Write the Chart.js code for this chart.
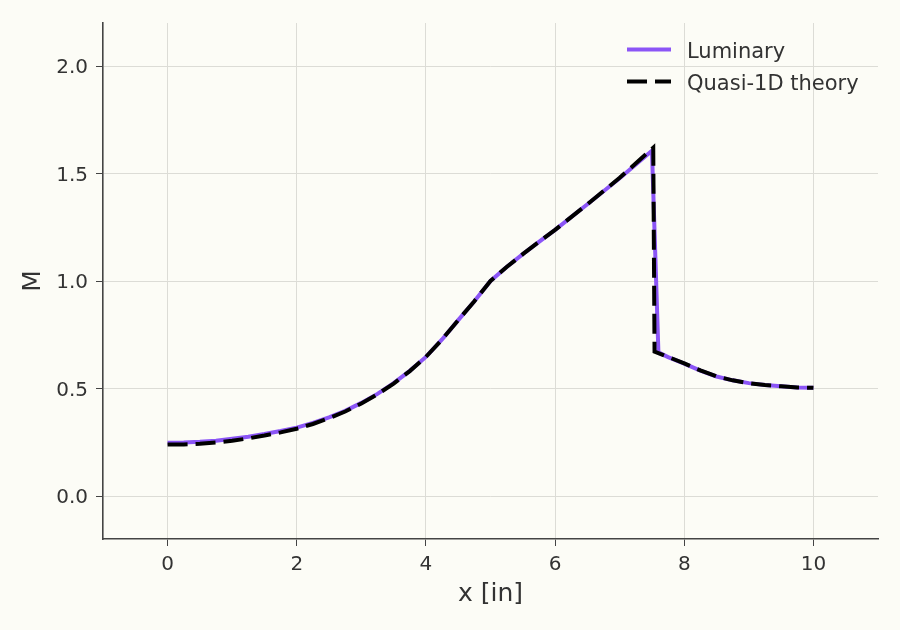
<!DOCTYPE html>
<html>
<head>
<meta charset="utf-8">
<script src="https://cdn.jsdelivr.net/npm/chart.js@4.4.1/dist/chart.umd.min.js"></script>
<style>
    html, body { margin: 0; padding: 0; background: #fcfcf6; }
    #wrap { width: 900px; height: 630px; }
</style>
</head>
<body>
<div id="wrap"><canvas id="machChart" width="900" height="630"></canvas></div>
<script>
// values
var luminaryX = [0, 0.25, 0.5, 0.75, 1, 1.25, 1.5, 1.75, 2, 2.25, 2.5, 2.75, 3, 3.25, 3.5, 3.75, 4, 4.25, 4.5, 4.75, 5,
    5.25, 5.5, 5.75, 6, 6.5, 7, 7.5, 7.6, 7.75, 8, 8.25, 8.5, 8.75, 9, 9.25, 9.5, 9.75, 10];
var luminaryM = [0.248, 0.249, 0.252, 0.257, 0.266, 0.276, 0.288, 0.302, 0.318, 0.340, 0.366, 0.396, 0.433, 0.475, 0.525, 0.582, 0.647, 0.728, 0.818, 0.906, 1.000,
    1.065, 1.125, 1.182, 1.238, 1.357, 1.478, 1.606, 0.668, 0.646, 0.616, 0.583, 0.556, 0.538, 0.525, 0.516, 0.510, 0.505, 0.503];

var theoryX = [0, 0.25, 0.5, 0.75, 1, 1.25, 1.5, 1.75, 2, 2.25, 2.5, 2.75, 3, 3.25, 3.5, 3.75, 4, 4.25, 4.5, 4.75, 5,
    5.25, 5.5, 5.75, 6, 6.5, 7, 7.52, 7.54, 7.75, 8, 8.25, 8.5, 8.75, 9, 9.25, 9.5, 9.75, 10];
var theoryM = [0.239, 0.240, 0.243, 0.249, 0.257, 0.268, 0.281, 0.296, 0.313, 0.335, 0.362, 0.393, 0.430, 0.473, 0.523, 0.581, 0.647, 0.728, 0.818, 0.906, 1.000,
    1.065, 1.125, 1.182, 1.238, 1.357, 1.480, 1.620, 0.672, 0.647, 0.617, 0.584, 0.556, 0.538, 0.525, 0.516, 0.510, 0.505, 0.503];

var xTicks = [0, 2, 4, 6, 8, 10];
var yTicks = [0, 0.5, 1.0, 1.5, 2.0];
var seriesNames = ["Luminary", "Quasi-1D theory"];

var purple = "#8b55f6";
var ink = "#333333";

function toPoints(xs, ys) {
    return xs.map((x, i) => ({ x: x, y: ys[i] }));
}

Chart.defaults.font.family = "'DejaVu Sans', sans-serif";
Chart.defaults.color = ink;

// legend drawn inside the plot, top right
var insideLegend = {
    id: "insideLegend",
    afterDraw: function (chart) {
        var ctx = chart.ctx;
        var x0 = 627, x1 = 671;
        var rows = [
            { y: 49.5, color: purple, dash: [] },
            { y: 81.5, color: "#000000", dash: [20, 8] }
        ];
        ctx.save();
        rows.forEach(function (r, i) {
            ctx.beginPath();
            ctx.setLineDash(r.dash);
            ctx.lineWidth = 4;
            ctx.strokeStyle = r.color;
            ctx.lineCap = "butt";
            ctx.moveTo(x0, r.y);
            ctx.lineTo(x1, r.y);
            ctx.stroke();
            ctx.setLineDash([]);
            ctx.fillStyle = ink;
            ctx.font = "21px 'DejaVu Sans', sans-serif";
            ctx.textBaseline = "alphabetic";
            ctx.textAlign = "left";
            ctx.fillText(seriesNames[i], 687, r.y + 8);
        });
        ctx.restore();
    }
};

var ctx = document.getElementById("machChart").getContext("2d");
new Chart(ctx, {
    type: "line",
    data: {
        datasets: [
            {
                label: seriesNames[0],
                data: toPoints(luminaryX, luminaryM),
                borderColor: purple,
                borderWidth: 4,
                pointRadius: 0,
                tension: 0,
                order: 1
            },
            {
                label: seriesNames[1],
                data: toPoints(theoryX, theoryM),
                borderColor: "#000000",
                borderWidth: 4,
                borderDash: [20, 8],
                pointRadius: 0,
                tension: 0,
                order: 0
            }
        ]
    },
    options: {
        responsive: false,
        animation: false,
        layout: { padding: { top: 23, right: 22, left: 0, bottom: 0 } },
        plugins: {
            legend: { display: false },
            tooltip: { enabled: false }
        },
        scales: {
            x: {
                type: "linear",
                min: -1,
                max: 11,
                afterBuildTicks: function (scale) {
                    scale.ticks = xTicks.map(v => ({ value: v }));
                },
                afterFit: function (scale) { scale.height = 91; },
                ticks: {
                    padding: 7,
                    font: { size: 20 },
                    color: ink,
                    maxRotation: 0,
                    callback: v => String(v)
                },
                grid: { color: "#dcdcd6", lineWidth: 1, tickColor: "#444444", tickLength: 7 },
                border: { display: true, color: "#444444", width: 1.6 },
                title: {
                    display: true,
                    text: "x [in]",
                    font: { size: 25 },
                    color: ink,
                    padding: { top: 0, bottom: 21 }
                }
            },
            y: {
                type: "linear",
                min: -0.2,
                max: 2.2,
                afterBuildTicks: function (scale) {
                    scale.ticks = yTicks.map(v => ({ value: v }));
                },
                afterFit: function (scale) { scale.width = 103; },
                ticks: {
                    padding: 8,
                    labelOffset: 2,
                    font: { size: 20 },
                    color: ink,
                    callback: v => Number(v).toFixed(1)
                },
                grid: { color: "#dcdcd6", lineWidth: 1, tickColor: "#444444", tickLength: 7 },
                border: { display: true, color: "#444444", width: 1.6 },
                title: {
                    display: true,
                    text: "M",
                    font: { size: 25 },
                    color: ink,
                    padding: { top: 18, bottom: 0 }
                }
            }
        }
    },
    plugins: [insideLegend]
});
</script>
</body>
</html>
